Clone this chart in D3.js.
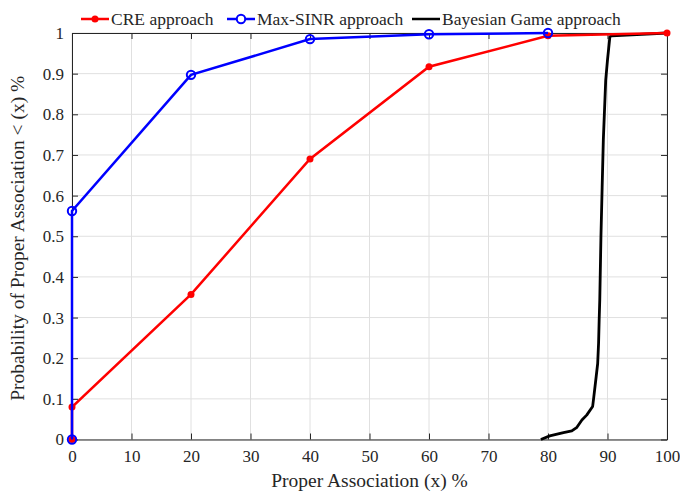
<!DOCTYPE html>
<html>
<head>
<meta charset="utf-8">
<script src="https://cdn.jsdelivr.net/npm/d3@7"></script>
<style>
  body { margin: 0; background: #fff; }
  text { font-family: "Liberation Serif", "Times New Roman", serif; fill: #262626; }
</style>
</head>
<body>
<svg id="chart" width="680" height="491"></svg>
<script>
// data
var creX = [0, 0, 20, 40, 60, 80, 100];
var creY = [0, 0.08, 0.357, 0.69, 0.917, 0.993, 1];
var sinrX = [0, 0, 20, 40, 60, 80];
var sinrY = [0, 0.562, 0.897, 0.985, 0.997, 1];
var bayesX = [78.8, 80.3, 82.6, 84.0, 84.8, 85.7, 86.5, 87.5, 87.7, 88.1, 88.35, 88.5, 88.6, 88.7, 88.9, 89.1, 89.3, 89.7, 90.0, 90.4, 90.7, 100];
var bayesY = [0, 0.009, 0.017, 0.021, 0.029, 0.048, 0.06, 0.081, 0.105, 0.155, 0.187, 0.237, 0.294, 0.343, 0.5, 0.62, 0.737, 0.884, 0.934, 0.991, 0.993, 1];
var xTicks = d3.range(0, 101, 10);
var yTicks = d3.range(0, 11).map(d => d / 10);

var svg = d3.select('#chart');
// note: not "top" - that clashes with window.top
var pLeft = 72, pRight = 667, pTop = 33, pBottom = 439.5;

var x = d3.scaleLinear().domain([0, 100]).range([pLeft, pRight]);
var y = d3.scaleLinear().domain([0, 1]).range([pBottom, pTop]);

// grid
svg.append('g').selectAll('line').data(xTicks).enter().append('line')
   .attr('x1', d => x(d)).attr('x2', d => x(d)).attr('y1', pTop).attr('y2', pBottom)
   .attr('stroke', '#e0e0e0').attr('stroke-width', 1);
svg.append('g').selectAll('line').data(yTicks).enter().append('line')
   .attr('y1', d => y(d)).attr('y2', d => y(d)).attr('x1', pLeft).attr('x2', pRight)
   .attr('stroke', '#e0e0e0').attr('stroke-width', 1);

// axes
var xAxis = svg.append('g').attr('transform', `translate(0,${pBottom})`)
   .call(d3.axisBottom(x).tickValues(xTicks).tickSizeInner(-6).tickSizeOuter(0).tickPadding(10));
var yAxis = svg.append('g').attr('transform', `translate(${pLeft},0)`)
   .call(d3.axisLeft(y).tickValues(yTicks).tickFormat(d3.format('')).tickSizeInner(-6).tickSizeOuter(0).tickPadding(8));
var xTop = svg.append('g').attr('transform', `translate(0,${pTop})`)
   .call(d3.axisTop(x).tickValues(xTicks).tickSizeInner(-6).tickSizeOuter(0).tickFormat(''));
var yRight = svg.append('g').attr('transform', `translate(${pRight},0)`)
   .call(d3.axisRight(y).tickValues(yTicks).tickSizeInner(-6).tickSizeOuter(0).tickFormat(''));
[xAxis, yAxis, xTop, yRight].forEach(function(a) {
  a.selectAll('path, line').attr('stroke', '#262626');
  a.selectAll('text').style('font-size', '17px').style('font-family', '"Liberation Serif", serif').attr('fill', '#262626');
});

var line = d3.line().x(d => x(d[0])).y(d => y(d[1]));

// series
var cre = creX.map((d, i) => [d, creY[i]]);
var sinr = sinrX.map((d, i) => [d, sinrY[i]]);
var bayes = bayesX.map((d, i) => [d, bayesY[i]]);

svg.append('path').datum(bayes).attr('d', line)
   .attr('fill', 'none').attr('stroke', '#000').attr('stroke-width', 2.8).attr('stroke-linejoin', 'round');
svg.append('path').datum(cre).attr('d', line)
   .attr('fill', 'none').attr('stroke', '#ff0000').attr('stroke-width', 2.5);
svg.append('g').selectAll('circle').data(cre).enter().append('circle')
   .attr('cx', d => x(d[0])).attr('cy', d => y(d[1])).attr('r', 3.5).attr('fill', '#ff0000');
svg.append('path').datum(sinr).attr('d', line)
   .attr('fill', 'none').attr('stroke', '#0000ff').attr('stroke-width', 2.5);
svg.append('g').selectAll('circle').data(sinr).enter().append('circle')
   .attr('cx', d => x(d[0])).attr('cy', d => y(d[1])).attr('r', 4.2)
   .attr('fill', 'none').attr('stroke', '#0000ff').attr('stroke-width', 2);

// legend
var legend = [
  { name: 'CRE approach', color: '#ff0000', mark: 'dot', x0: 81 },
  { name: 'Max-SINR approach', color: '#0000ff', mark: 'ring', x0: 227 },
  { name: 'Bayesian Game approach', color: '#000', mark: 'none', x0: 412 }
];
var lg = svg.append('g').selectAll('g').data(legend).enter().append('g')
   .attr('transform', d => `translate(${d.x0},19)`);
lg.append('line').attr('x1', 0).attr('x2', 28).attr('stroke', d => d.color).attr('stroke-width', 2.5);
lg.filter(d => d.mark == 'dot').append('circle').attr('cx', 14).attr('r', 3.5).attr('fill', d => d.color);
lg.filter(d => d.mark == 'ring').append('circle').attr('cx', 14).attr('r', 4.2)
   .attr('fill', '#fff').attr('stroke', d => d.color).attr('stroke-width', 2);
lg.append('text').attr('x', 30).attr('dy', '0.35em').style('font-size', '17.5px').attr('fill', '#000').text(d => d.name);

// axis labels
svg.append('text').attr('x', (pLeft + pRight) / 2).attr('y', 487).attr('text-anchor', 'middle')
   .style('font-size', '19.5px').text('Proper Association (x) %');
svg.append('text').attr('transform', `translate(24,${(pTop + pBottom) / 2 + 2}) rotate(-90)`).attr('text-anchor', 'middle')
   .style('font-size', '19.5px').text('Probability of Proper Association < (x) %');
</script>
</body>
</html>
